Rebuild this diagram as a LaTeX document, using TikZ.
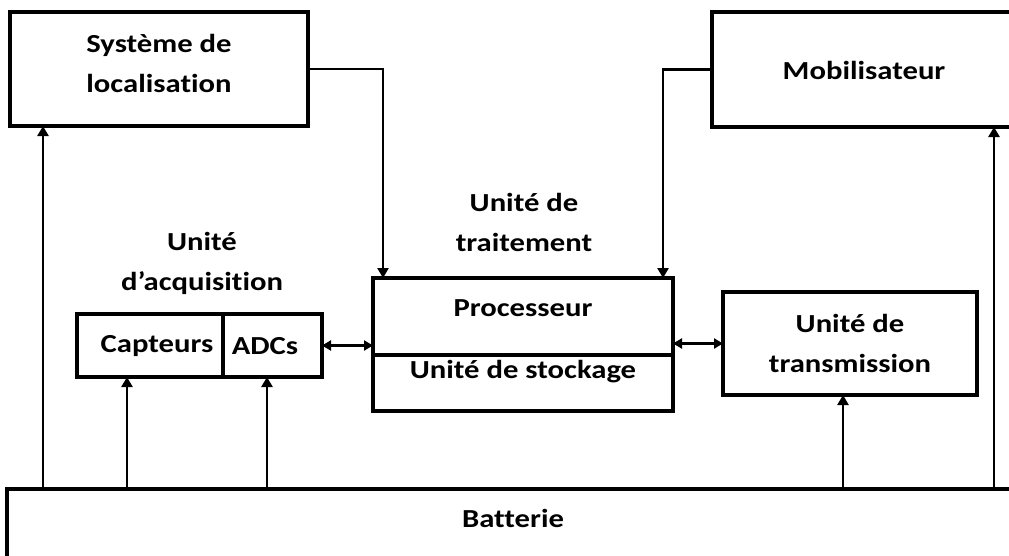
\documentclass[tikz,border=0pt]{standalone}
\usepackage{fontspec}
\newfontfamily\lbl{Carlito}[FakeStretch=1.18,Ligatures={NoCommon,NoRare,NoDiscretionary}]
\usetikzlibrary{arrows.meta}
\begin{document}
\begin{tikzpicture}[x=1pt,y=-1pt,
  box/.style={draw,line width=3.4pt,inner sep=0pt,outer sep=0pt},
  txt/.style={font=\lbl\bfseries\fontsize{26}{40}\selectfont,align=center,inner sep=0pt},
  arr/.style={line width=2.8pt,-{Triangle[length=10pt,width=11pt]}},
  dbl/.style={line width=2.8pt,{Triangle[length=9pt,width=10pt]}-{Triangle[length=9pt,width=10pt]}}]
\useasboundingbox (0,0) rectangle (1009,555);
\clip (0,0) rectangle (1009,555);

% upper blocks
\node[box,minimum width=298pt,minimum height=114pt] (loc) at (159,69) {};
\node[txt] (loctxt) at (159,63) {Système de\\localisation};
\node[box,minimum width=308pt,minimum height=115pt] (mob) at (866,69.5) {};
\node[txt] (mobtxt) at (864,70) {Mobilisateur};

% processing unit
\node[box,minimum width=300pt,minimum height=77pt] (proc) at (523,316.5) {};
\node[box,minimum width=300pt,minimum height=56pt] (stock) at (523,383) {};
\node[txt] (proctxt) at (523,308) {Processeur};
\node[txt] (stocktxt) at (523,372) {Unité de stockage};
\node[txt] (traittxt) at (524,222) {Unité de\\traitement};

% acquisition unit
\node[box,minimum width=146pt,minimum height=63pt] (capt) at (150,345.5) {};
\node[box,minimum width=99pt,minimum height=63pt] (adc) at (272.5,345.5) {};
\node[txt] (capttxt) at (157,346) {Capteurs};
\node[txt] (adctxt) at (265,346) {ADCs};
\node[txt] (acqtxt) at (202,263) {Unité\\d’acquisition};

% transmission unit
\node[box,minimum width=254pt,minimum height=103pt] (trans) at (850,343.5) {};
\node[txt] (transtxt) at (850,343) {Unité de\\transmission};

% battery
\node[box,line width=3.8pt,minimum width=1013pt,minimum height=71pt] (bat) at (513.5,524.5) {};
\node[txt] (battxt) at (513,518) {Batterie};

% data paths
\draw[arr] (loc.east) -| ([xshift=-140pt]proc.north);
\draw[arr] (mob.west) -| ([xshift=140pt]proc.north);
\draw[dbl] (adc.east) -- (adc.east -| proc.west);
\draw[dbl] (trans.west -| proc.east) -- (trans.west);

% power supply lines
\coordinate (p1) at ([xshift=-116pt]loc.south);
\coordinate (p2) at ([xshift=-23pt]capt.south);
\coordinate (p3) at ([xshift=-5.5pt]adc.south);
\coordinate (p4) at ([xshift=-7pt]trans.south);
\coordinate (p5) at ([xshift=128pt]mob.south);
\foreach \p in {p1,p2,p3,p4,p5}
  \draw[arr] (\p |- bat.north) -- (\p);
\end{tikzpicture}
\end{document}
